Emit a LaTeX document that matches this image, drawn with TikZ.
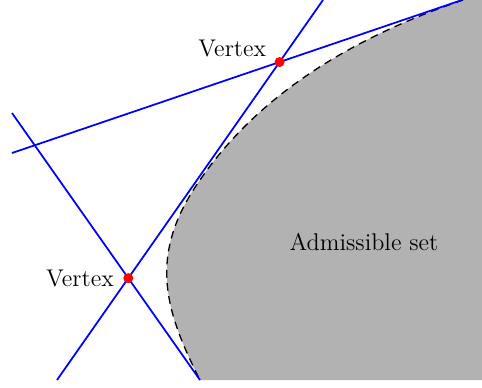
\documentclass[tikz,border=0pt]{standalone}
\usepackage{tikz}
\usetikzlibrary{positioning}
\newcommand{\admcurve}{(463,0) .. controls (342,41) and (254,101) .. (200,180)
  .. controls (148,254) and (164,309) .. (200,380)}

\begin{document}
\begin{tikzpicture}[x=0.016cm,y=-0.016cm,
  bound/.style={blue,thick},
  vert/.style={circle,fill=red,inner sep=0pt,minimum size=1.6mm},
  lab/.style={font=\fontsize{11}{13}\selectfont}]
\useasboundingbox (0,0) rectangle (482,387);
% admissible set
\fill[gray!60] \admcurve -- (482,380) -- (482,0) -- cycle;
\draw[semithick,dash pattern=on 3.5pt off 2.5pt] \admcurve;
% constraint lines
\coordinate (l1a) at (12,153);  \coordinate (l1b) at (462,0);
\coordinate (l2a) at (57,380);  \coordinate (l2b) at (323,0);
\coordinate (l3a) at (12,113);  \coordinate (l3b) at (200,380);
\draw[bound] (l1a) -- (l1b);
\draw[bound] (l2a) -- (l2b);
\draw[bound] (l3a) -- (l3b);
% vertices
\node[vert] (vA) at (intersection of l1a--l1b and l2a--l2b) {};
\node[vert] (vB) at (intersection of l2a--l2b and l3a--l3b) {};
\node[lab,above left=-1mm and 0.3mm of vA] (labA) {Vertex};
\node[lab,left=0.2mm of vB] (labB) {Vertex};
\node[lab] (adm) at (364,242) {Admissible set};
\end{tikzpicture}
\end{document}
